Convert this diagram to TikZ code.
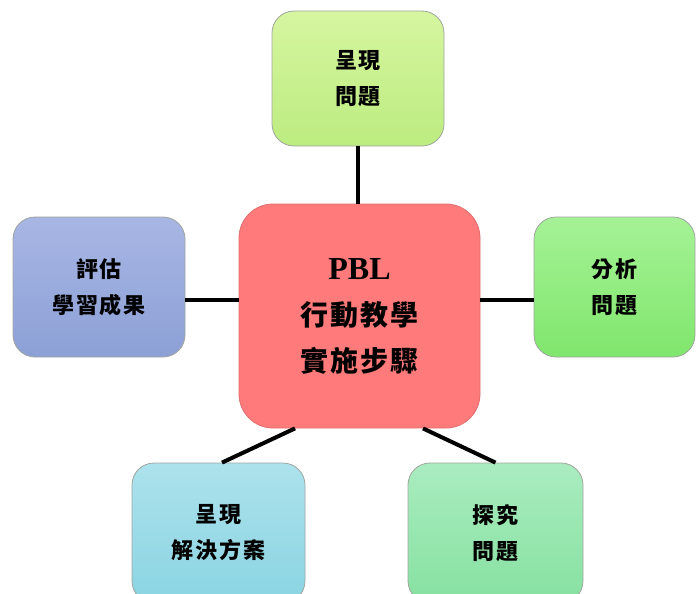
\documentclass[tikz,border=0pt]{standalone}
\usepackage{fontspec}
\newfontfamily\cjk{Noto Sans CJK TC}[LetterSpace=8]
\newfontfamily\latinb{Liberation Serif}
\definecolor{tTop}{RGB}{214,245,160}
\definecolor{tBot}{RGB}{188,236,128}
\definecolor{cFill}{RGB}{255,122,122}
\definecolor{cLine}{RGB}{225,110,110}
\definecolor{lTop}{RGB}{168,182,228}
\definecolor{lBot}{RGB}{140,160,214}
\definecolor{rTop}{RGB}{165,242,150}
\definecolor{rBot}{RGB}{128,230,108}
\definecolor{blTop}{RGB}{172,226,236}
\definecolor{blBot}{RGB}{138,212,226}
\definecolor{brTop}{RGB}{170,236,192}
\definecolor{brBot}{RGB}{134,225,160}
\definecolor{edge}{RGB}{160,165,160}
\begin{document}
\begin{tikzpicture}[x=1pt,y=-1pt,
  smallbox/.style={draw=edge, line width=0.8pt, rounded corners=22pt,
    minimum width=172pt, minimum height=140pt, inner sep=0pt,
    align=center, font=\cjk\bfseries\fontsize{22}{36}\selectfont},
  bigbox/.style={draw=cLine, fill=cFill, line width=0.8pt, rounded corners=34pt,
    minimum width=241pt, minimum height=224pt, inner sep=0pt,
    align=center, font=\cjk\bfseries\fontsize{28}{46}\selectfont},
  conn/.style={line width=4pt, black}]
\useasboundingbox (0,0) rectangle (696,594);
\clip (0,0) rectangle (696,594);
\node[bigbox] (C) at (359.5,316) {{\latinb\bfseries\fontsize{32}{46}\selectfont PBL}\\行動教學\\實施步驟};
\node[smallbox, top color=tTop, bottom color=tBot, minimum height=135pt] (T) at (358,78.5) {呈現\\問題};
\node[smallbox, top color=lTop, bottom color=lBot] (L) at (99,287) {評估\\學習成果};
\node[smallbox, top color=rTop, bottom color=rBot, minimum width=161pt] (R) at (614.5,287) {分析\\問題};
\node[smallbox, top color=blTop, bottom color=blBot, minimum width=173pt] (BL) at (218.5,533) {呈現\\解決方案};
\node[smallbox, top color=brTop, bottom color=brBot, minimum width=175pt] (BR) at (495.5,533) {探究\\問題};
\draw[conn] (T.south) -- (T.south |- C.north);
\draw[conn] ([yshift=-13pt]L.east) -- ([yshift=16pt]C.west);
\draw[conn] ([yshift=16pt]C.east) -- ([yshift=-13pt]R.west);
\draw[conn] ([xshift=-64.5pt]C.south) -- ([xshift=3.5pt]BL.north);
\draw[conn] ([xshift=63.5pt]C.south) -- (BR.north);
\end{tikzpicture}
\end{document}
